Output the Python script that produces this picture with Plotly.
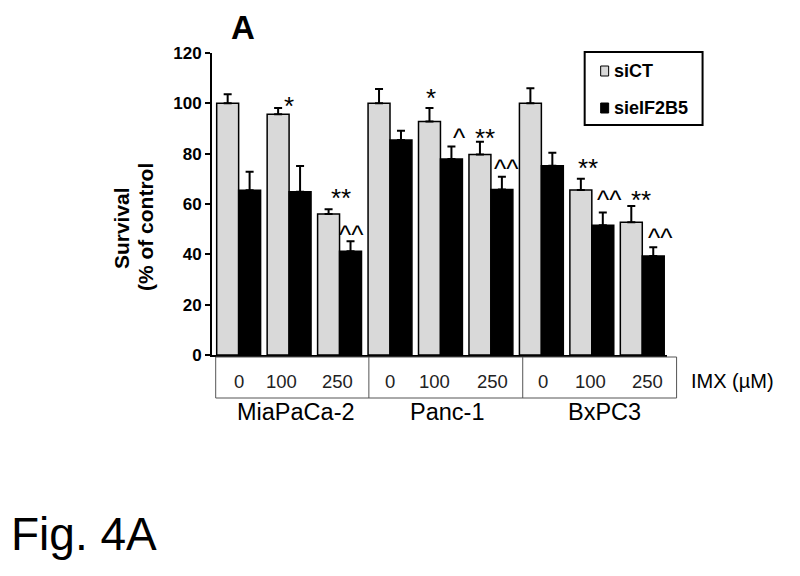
import plotly.graph_objects as go

# ---- data ----
cell_lines = ["MiaPaCa-2", "Panc-1", "BxPC3"]
doses = ["0", "100", "250"]
sict_vals = [100, 95.7, 56.0, 100, 92.8, 79.7, 100, 65.6, 52.7]
sict_err = [3.6, 2.4, 1.9, 5.7, 5.3, 5.0, 6.0, 4.4, 6.5]
sieif_vals = [65.5, 64.9, 41.2, 85.4, 77.9, 65.8, 75.2, 51.6, 39.3]
sieif_err = [7.3, 10.2, 4.0, 3.7, 4.9, 5.0, 5.2, 5.0, 3.5]
sig_text = ["*", "**", "^^", "*", "^", "**", "^^", "**", "^^", "**", "^^"]
sig_x = [1.0, 2.03, 2.24, 3.82, 4.38, 4.88, 5.31, 6.92, 7.35, 7.98, 8.36]
sig_y = [101.3, 64.8, 49.9, 104.6, 88.6, 88.7, 76.2, 76.5, 63.9, 63.9, 49.0]
y_ticks = [0, 20, 40, 60, 80, 100, 120]

FONT = "Liberation Sans, Arial, sans-serif"
GREY = "#d9d9d9"

OFF = 8  # page body margin
W, H = 800 - 2 * OFF, 576 - 2 * OFF
PW, PH = 455.4, 302
L, T = 212 - OFF, 53 - OFF
R = W - L - PW
B = H - T - PH


def px(xp):
    return (xp - OFF - L) / PW


def py(yp):
    return (H - B - (yp - OFF)) / PH


n = len(sict_vals)
xs = list(range(n))
dose_shift = [0, -8, -2, 0, -6, 2, 2, -1, 5]  # label nudges in px

fig = go.Figure()
fig.add_trace(go.Bar(
    x=xs, y=sict_vals, name="siCT",
    marker=dict(color=GREY, line=dict(color="black", width=1.5)),
    error_y=dict(type="data", symmetric=False, array=sict_err,
                 arrayminus=[0] * n, color="black", thickness=2, width=4),
    showlegend=False,
))
fig.add_trace(go.Bar(
    x=xs, y=sieif_vals, name="sieIF2B5",
    marker=dict(color="black", line=dict(color="black", width=1.5)),
    error_y=dict(type="data", symmetric=False, array=sieif_err,
                 arrayminus=[0] * n, color="black", thickness=2, width=4),
    showlegend=False,
))

ann = []
# significance marks
for t, x, y in zip(sig_text, sig_x, sig_y):
    ann.append(dict(x=x, y=y, xref="x", yref="y", text=t, showarrow=False,
                    font=dict(family=FONT, size=26, color="black"),
                    xanchor="center", yanchor="middle", yshift=-6))

# panel letter
ann.append(dict(x=px(243), y=py(27), xref="paper", yref="paper", text="<b>A</b>",
                showarrow=False, font=dict(family=FONT, size=33, color="black"),
                xanchor="center", yanchor="middle"))

# y-axis titles
ann.append(dict(x=px(121), y=py(228), xref="paper", yref="paper", text="<b>Survival</b>",
                showarrow=False, textangle=-90,
                font=dict(family=FONT, size=21, color="black"),
                xanchor="center", yanchor="middle"))
ann.append(dict(x=px(145), y=py(227), xref="paper", yref="paper", text="<b>(% of control</b>",
                showarrow=False, textangle=-90,
                font=dict(family=FONT, size=21, color="black"),
                xanchor="center", yanchor="middle"))

# dose labels in table
for i in range(n):
    ann.append(dict(x=i, y=py(382), xref="x", yref="paper", text=doses[i % 3],
                    showarrow=False, font=dict(family=FONT, size=18.5, color="#222"),
                    xanchor="center", yanchor="middle", xshift=dose_shift[i]))
ann.append(dict(x=px(689), y=py(381), xref="paper", yref="paper", text="IMX (µM)",
                showarrow=False, font=dict(family=FONT, size=20, color="black"),
                xanchor="left", yanchor="middle"))

# cell line labels
for name, cx in zip(cell_lines, [296, 447, 605]):
    ann.append(dict(x=px(cx), y=py(412), xref="paper", yref="paper", text=name,
                    showarrow=False, font=dict(family=FONT, size=23.5, color="black"),
                    xanchor="center", yanchor="middle"))

# legend
ann.append(dict(x=px(612), y=py(71), xref="paper", yref="paper", text="<b>siCT</b>",
                showarrow=False, font=dict(family=FONT, size=18, color="black"),
                xanchor="left", yanchor="middle"))
ann.append(dict(x=px(612), y=py(108), xref="paper", yref="paper", text="<b>sieIF2B5</b>",
                showarrow=False, font=dict(family=FONT, size=18, color="black"),
                xanchor="left", yanchor="middle"))

# figure caption
ann.append(dict(x=px(9), y=py(534), xref="paper", yref="paper", text="Fig. 4A",
                showarrow=False, font=dict(family=FONT, size=46, color="black"),
                xanchor="left", yanchor="middle"))

shapes = []
# table box
shapes.append(dict(type="rect", xref="paper", yref="paper",
                   x0=px(215.7), x1=px(677), y0=py(398), y1=py(357),
                   line=dict(color="#555", width=1)))
for xd in [369, 523]:
    shapes.append(dict(type="line", xref="paper", yref="paper",
                       x0=px(xd), x1=px(xd), y0=py(398), y1=py(357),
                       line=dict(color="#555", width=1)))
# legend box + swatches
shapes.append(dict(type="rect", xref="paper", yref="paper",
                   x0=px(585), x1=px(703), y0=py(125), y1=py(52),
                   line=dict(color="black", width=2), fillcolor="white"))
shapes.append(dict(type="rect", xref="paper", yref="paper",
                   x0=px(601), x1=px(609), y0=py(76), y1=py(66),
                   line=dict(color="black", width=1), fillcolor=GREY))
shapes.append(dict(type="rect", xref="paper", yref="paper",
                   x0=px(601), x1=px(609), y0=py(113), y1=py(103),
                   line=dict(color="black", width=1), fillcolor="black"))

fig.update_layout(
    width=W, height=H,
    margin=dict(l=L, r=R, t=T, b=B, autoexpand=False),
    paper_bgcolor="white", plot_bgcolor="white",
    barmode="group", bargap=0.13, bargroupgap=0,
    annotations=ann, shapes=shapes,
    font=dict(family=FONT, color="black"),
)
fig.update_xaxes(range=[-0.528, 8.49], showline=True, linecolor="black", linewidth=2,
                 showticklabels=False, ticks="", showgrid=False, zeroline=False)
fig.update_yaxes(range=[0, 120], tickvals=y_ticks, showline=True, linecolor="black",
                 linewidth=2, ticks="outside", ticklen=5, tickwidth=2, tickcolor="black",
                 tickfont=dict(family=FONT, size=17, color="black", weight="bold"),
                 showgrid=False, zeroline=False)

fig.write_html("out.html")
